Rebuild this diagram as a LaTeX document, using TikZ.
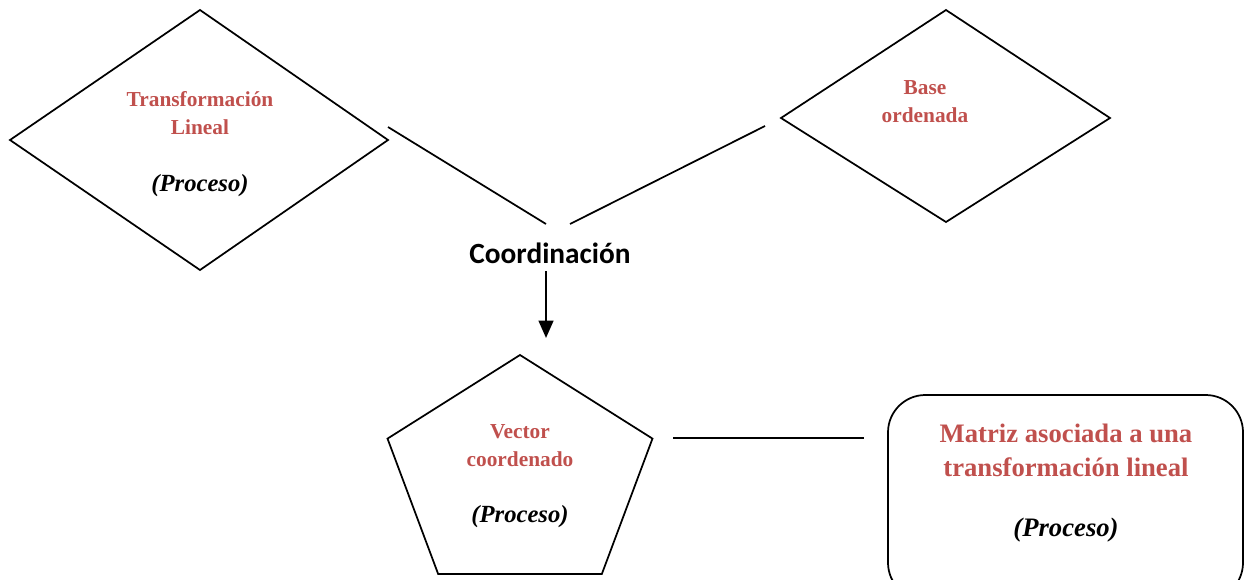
\documentclass[tikz,border=0pt]{standalone}
\usepackage{fontspec}
\setmainfont{Liberation Serif}
\newfontfamily\calibri{Carlito}
\usetikzlibrary{arrows.meta}
\definecolor{rojo}{RGB}{192,80,77}

\tikzset{
  forma/.style={line width=1.3pt, line join=miter},
  titulo/.style={font=\bfseries\fontsize{16}{21}\selectfont, text=rojo, align=center, inner sep=0.75pt},
  proceso/.style={font=\bfseries\itshape\fontsize{18.5}{22}\selectfont, inner sep=0.75pt},
  enlace/.style={line width=1.3pt}
}

\begin{document}
\begin{tikzpicture}[x=0.75pt,y=0.75pt,yscale=-1,xscale=1]
\useasboundingbox (0,0) rectangle (1245,579);
\clip (0,0) rectangle (1245,579);

%Shape: Diamond [transformacion]
\draw [forma] (200,10) -- (388,140) -- (200,270) -- (10,140) -- cycle ;
%Shape: Diamond [base]
\draw [forma] (946,10) -- (1110,118) -- (946,222) -- (781,118) -- cycle ;
%Shape: Pentagon [vector]
\draw [forma] (520,476) +(-90:139.3 and 121)
  \foreach \a in {-18,54,126,198} { -- +(\a:139.3 and 121) } -- cycle ;
%Shape: Rounded Rect [matriz]
\draw [forma, rounded corners=28] (888,395) rectangle (1243,600) ;

% Text Node
\node [titulo] (tlineal) at (200,113) {Transformación\\Lineal};
% Text Node
\node [proceso] (ptlineal) at (200,186) {(Proceso)};
% Text Node
\node [titulo] (base) at (925,102) {Base\\ordenada};
% Text Node
\node [font=\calibri\bfseries\fontsize{22}{26}\selectfont, inner sep=0.75pt] (coord) at (550,253) {Coordinación};
% Text Node
\node [titulo] (vector) at (520,446) {Vector\\coordenado};
% Text Node
\node [proceso] (pvector) at (520,517) {(Proceso)};
% Text Node
\node [titulo, font=\bfseries\fontsize{20}{25.5}\selectfont] (matriz) at (1066,450) {Matriz asociada a una\\transformación lineal};
% Text Node
\node [proceso, font=\bfseries\itshape\fontsize{20}{24}\selectfont] (pmatriz) at (1066,530) {(Proceso)};

%Straight Lines
\coordinate (l1a) at (388,127);
\coordinate (l1b) at (546,224);
\coordinate (l2a) at (570,224);
\coordinate (l2b) at (765,126);
\coordinate (l3a) at (673,438);
\coordinate (l3b) at (864,438);
\coordinate (fa) at (546,271);
\coordinate (fb) at (546,338);
\draw [enlace] (l1a) -- (l1b) ;
\draw [enlace] (l2a) -- (l2b) ;
\draw [enlace] (l3a) -- (l3b) ;
\draw [line width=1.7pt, -{Triangle[length=13pt,width=11pt]}] (fa) -- (fb) ;

\end{tikzpicture}
\end{document}
